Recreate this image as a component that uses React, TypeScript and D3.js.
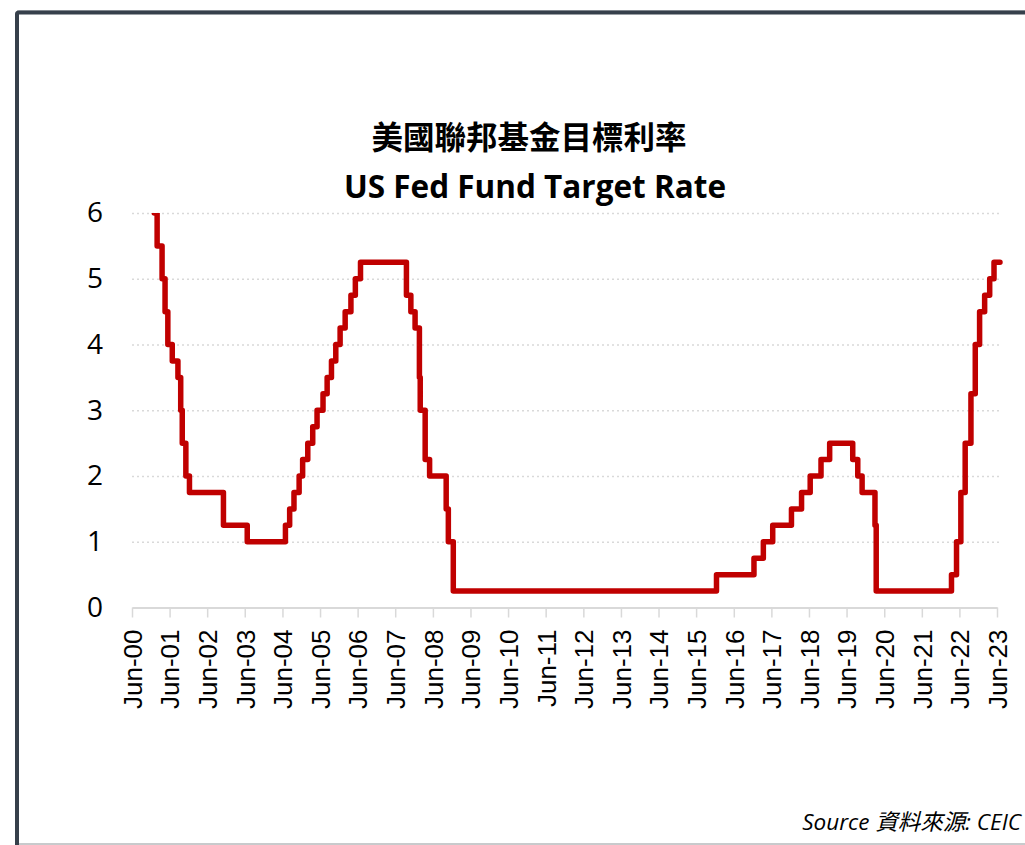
import { useEffect, useRef } from 'react'
import * as d3 from 'd3'

// Fed funds target (upper bound after Dec-08), one entry per FOMC change
const changeDates = [
  '2000-06-01', '2001-01-03', '2001-01-31', '2001-03-20', '2001-04-18', '2001-05-15',
  '2001-06-27', '2001-08-21', '2001-09-17', '2001-10-02', '2001-11-06', '2001-12-11',
  '2002-11-06', '2003-06-25', '2004-06-30', '2004-08-10', '2004-09-21', '2004-11-10',
  '2004-12-14', '2005-02-02', '2005-03-22', '2005-05-03', '2005-06-30', '2005-08-09',
  '2005-09-20', '2005-11-01', '2005-12-13', '2006-01-31', '2006-03-28', '2006-05-10',
  '2006-06-29', '2007-09-18', '2007-10-31', '2007-12-11', '2008-01-22', '2008-01-30',
  '2008-03-18', '2008-04-30', '2008-10-08', '2008-10-29', '2008-12-16', '2015-12-16',
  '2016-12-14', '2017-03-15', '2017-06-14', '2017-12-13', '2018-03-21', '2018-06-13',
  '2018-09-26', '2018-12-19', '2019-07-31', '2019-09-18', '2019-10-30', '2020-03-03',
  '2020-03-15', '2022-03-16', '2022-05-04', '2022-06-15', '2022-07-27', '2022-09-21',
  '2022-11-02', '2022-12-14', '2023-02-01', '2023-03-22', '2023-05-03', '2023-06-30',
]
const targetRates = [
  6.5, 6.0, 5.5, 5.0, 4.5, 4.0,
  3.75, 3.5, 3.0, 2.5, 2.0, 1.75,
  1.25, 1.0, 1.25, 1.5, 1.75, 2.0,
  2.25, 2.5, 2.75, 3.0, 3.25, 3.5,
  3.75, 4.0, 4.25, 4.5, 4.75, 5.0,
  5.25, 4.75, 4.5, 4.25, 3.5, 3.0,
  2.25, 2.0, 1.5, 1.0, 0.25, 0.5,
  0.75, 1.0, 1.25, 1.5, 1.75, 2.0,
  2.25, 2.5, 2.25, 2.0, 1.75, 1.25,
  0.25, 0.5, 1.0, 1.75, 2.5, 3.25,
  4.0, 4.5, 4.75, 5.0, 5.25, 5.25,
]
const yTicks = [0, 1, 2, 3, 4, 5, 6]
const tickYears = [
  2000, 2001, 2002, 2003, 2004, 2005, 2006, 2007, 2008, 2009, 2010, 2011,
  2012, 2013, 2014, 2015, 2016, 2017, 2018, 2019, 2020, 2021, 2022, 2023,
]

const RED = '#c00000'
const GRID = '#d9d9d9'

export default function App() {
  const svgRef = useRef<SVGSVGElement>(null)

  useEffect(() => {
    if (!svgRef.current) return
    const width = 1025
    const height = 845
    const svg = d3.select(svgRef.current)
    svg.selectAll('*').remove()

    const left = 132, right = 997, top = 213, bottom = 607.5

    const parse = d3.timeParse('%Y-%m-%d')
    const data = changeDates.map((d, i) => ({ date: parse(d)!, rate: targetRates[i] }))

    const x = d3.scaleTime()
      .domain([new Date(2000, 5, 1), new Date(2023, 5, 1)])
      .range([left, right])
    const y = d3.scaleLinear().domain([0, 6]).range([bottom, top])

    // Frame
    svg.append('rect').attr('width', width).attr('height', height).attr('fill', '#fff')
    svg.append('line').attr('x1', 17).attr('x2', width).attr('y1', 10.5).attr('y2', 10.5)
      .attr('stroke', '#c9ccd0').attr('stroke-width', 1)
    svg.append('path').attr('d', `M17,${height} L17,14 Q17,12.5 19,12.5 L${width},12.5`)
      .attr('fill', 'none').attr('stroke', '#36404b').attr('stroke-width', 4)
    svg.append('line').attr('x1', 19).attr('x2', width).attr('y1', height - 1).attr('y2', height - 1)
      .attr('stroke', '#c8cacc').attr('stroke-width', 2)

    // Titles
    svg.append('text').attr('x', 529).attr('y', 149).attr('text-anchor', 'middle')
      .attr('font-family', '"Noto Sans CJK TC", "Noto Sans CJK SC", sans-serif')
      .attr('font-weight', 700).attr('font-size', 31.5).attr('fill', '#000')
      .text('美國聯邦基金目標利率')
    svg.append('text').attr('x', 535).attr('y', 198).attr('text-anchor', 'middle')
      .attr('font-family', '"Open Sans", sans-serif')
      .attr('font-weight', 700).attr('font-size', 31.5).attr('fill', '#000')
      .text('US Fed Fund Target Rate')

    // Grid (dotted)
    const g = svg.append('g')
    g.append('g').attr('transform', `translate(${left},0)`)
      .call(d3.axisLeft(y).tickValues(yTicks.filter(v => v > 0)).tickSize(-(right - left + 2)).tickFormat(() => ''))
      .call(s => s.select('.domain').remove())
      .call(s => s.selectAll('.tick line').attr('stroke', GRID).attr('stroke-width', 1.5).attr('stroke-dasharray', '2,3'))

    // Y labels
    g.append('g').attr('transform', `translate(${left},0)`)
      .call(d3.axisLeft(y).tickValues(yTicks).tickSize(0).tickPadding(29).tickFormat(d3.format('d')))
      .call(s => s.select('.domain').remove())
      .call(s => s.selectAll('.tick text').attr('fill', '#000').attr('font-size', 28)
        .attr('font-family', '"Open Sans", sans-serif'))

    // X axis
    const xTicks = tickYears.map(yr => new Date(yr, 5, 1))
    g.append('g').attr('transform', `translate(0,${bottom})`)
      .call(d3.axisBottom(x).tickValues(xTicks).tickSize(10).tickSizeOuter(0)
        .tickFormat(d => d3.timeFormat('%b-%y')(d as Date)))
      .call(s => s.select('.domain').attr('stroke', GRID).attr('stroke-width', 2))
      .call(s => s.selectAll('.tick line').attr('stroke', GRID).attr('stroke-width', 1.5))
      .call(s => s.selectAll('.tick text')
        .attr('fill', '#000').attr('font-size', 26).attr('font-family', '"Liberation Sans", Arial, sans-serif')
        .attr('text-anchor', 'end').attr('dy', '0.36em').attr('y', 0)
        .attr('transform', 'translate(0,22) rotate(-90)').attr('x', 0))

    // Line, clipped to plot area
    svg.append('clipPath').attr('id', 'plot-clip')
      .append('rect').attr('x', left - 10).attr('y', top).attr('width', right - left + 30).attr('height', bottom - top + 20)

    const line = d3.line<{ date: Date; rate: number }>()
      .x(d => x(d.date)).y(d => y(d.rate)).curve(d3.curveStepAfter)

    svg.append('path').datum(data).attr('d', line)
      .attr('clip-path', 'url(#plot-clip)')
      .attr('fill', 'none').attr('stroke', RED).attr('stroke-width', 5.5)
      .attr('stroke-linejoin', 'round').attr('stroke-linecap', 'round')

    // Source
    svg.append('text').attr('x', 1021).attr('y', 830).attr('text-anchor', 'end')
      .attr('font-family', '"Open Sans", "Noto Sans CJK TC", sans-serif')
      .attr('font-style', 'italic').attr('font-size', 22.5).attr('fill', '#000')
      .text('Source 資料來源: CEIC')
  }, [])

  return (
    <div style={{ position: 'absolute', left: 0, top: 0 }}>
      <svg ref={svgRef} width={1025} height={845} style={{ display: 'block' }} />
    </div>
  )
}
